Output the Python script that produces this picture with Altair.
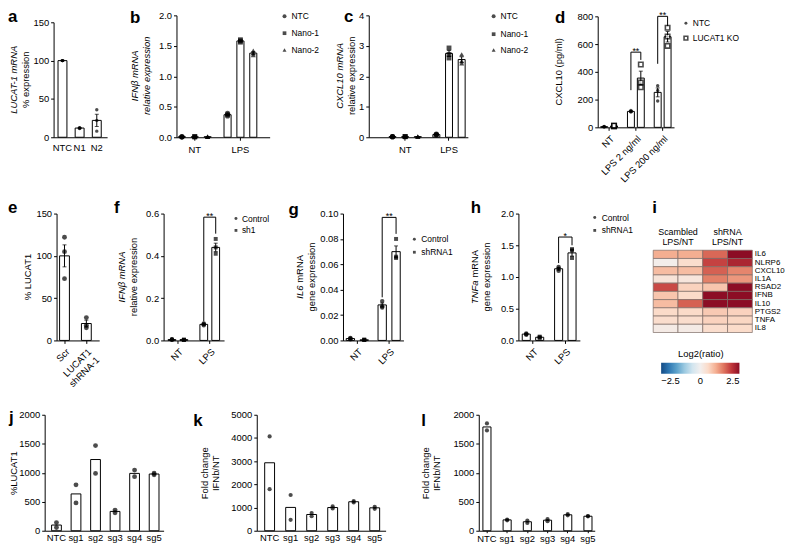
import altair as alt
import pandas as pd

FONT = "Liberation Sans"
W, H = 787, 539

# ---------------- data ----------------
a_cats = ["NTC", "N1", "N2"]
a_mean = [100, 12, 22]
a_sem = [0.6, 0.8, 8]
a_pts = [[100, 100, 100], [11.5, 12, 12.5], [36, 22, 8]]

b_conds = ["NT", "LPS"]
b_groups = ["NTC", "Nano-1", "Nano-2"]
b_mean = [[0.008, 0.008, 0.008], [0.37, 1.58, 1.38]]
b_sem = [[0.001, 0.001, 0.001], [0.015, 0.012, 0.025]]
b_pts = [[[0.008, 0.008, 0.008], [0.008, 0.008, 0.008], [0.008, 0.008, 0.008]],
         [[0.35, 0.37, 0.39], [1.56, 1.58, 1.60], [1.35, 1.38, 1.42]]]

c_conds = ["NT", "LPS"]
c_groups = ["NTC", "Nano-1", "Nano-2"]
c_mean = [[0.02, 0.02, 0.02], [0.09, 2.75, 2.55]]
c_sem = [[0.003, 0.003, 0.003], [0.01, 0.1, 0.09]]
c_pts = [[[0.02, 0.02, 0.02], [0.02, 0.02, 0.02], [0.02, 0.02, 0.02]],
         [[0.08, 0.1, 0.09], [2.93, 2.72, 2.6], [2.72, 2.5, 2.43]]]

d_conds = ["NT", "LPS 2 ng/ml", "LPS 200 ng/ml"]
d_groups = ["NTC", "LUCAT1 KO"]
d_mean = [[5, 10], [115, 355], [252, 653]]
d_sem = [[2, 3], [6, 50], [32, 38]]
d_pts = [[[3, 5, 7], [7, 10, 13]], [[110, 115, 121], [453, 324, 289]],
         [[300, 265, 190], [718, 655, 587]]]
d_brackets = [("LPS 2 ng/ml", 268, 542, 486), ("LPS 200 ng/ml", 458, 800, 730)]

e_cats = ["Scr", "LUCAT1 shRNA-1"]
e_mean = [100, 20]
e_sem = [13, 4]
e_pts = [[122, 105, 73], [27, 18, 15]]

f_conds = ["NT", "LPS"]
f_groups = ["Control", "sh1"]
f_mean = [[0.004, 0.004], [0.076, 0.44]]
f_sem = [[0.001, 0.001], [0.002, 0.02]]
f_pts = [[[0.004, 0.004, 0.004], [0.003, 0.003, 0.003]],
         [[0.072, 0.077, 0.08], [0.48, 0.44, 0.41]]]
f_brackets = [("LPS", 0.09, 0.583, 0.505)]

g_conds = ["NT", "LPS"]
g_groups = ["Control", "shRNA1"]
g_mean = [[0.0015, 0.0005], [0.028, 0.070]]
g_sem = [[0.0004, 0.0002], [0.0015, 0.0045]]
g_pts = [[[0.002, 0.0015, 0.001], [0.0006, 0.0005, 0.0004]],
         [[0.031, 0.027, 0.026], [0.080, 0.066, 0.065]]]
g_brackets = [("LPS", 0.034, 0.097, 0.084)]

h_conds = ["NT", "LPS"]
h_groups = ["Control", "shRNA1"]
h_mean = [[0.1, 0.05], [1.13, 1.38]]
h_sem = [[0.01, 0.005], [0.02, 0.05]]
h_pts = [[[0.11, 0.1, 0.09], [0.05, 0.04, 0.06]],
         [[1.16, 1.13, 1.1], [1.44, 1.42, 1.3]]]
h_brackets = [("LPS", 1.22, 1.63, 1.50)]

i_genes = ["IL6", "NLRP6", "CXCL10", "IL1A", "RSAD2", "IFNB", "IL10", "PTGS2", "TNFA", "IL8"]
i_cols = ["Scrambled 1", "Scrambled 2", "shRNA 1", "shRNA 2"]
i_vals = [[1.0, 1.0, 1.6, 2.6],
          [0.05, 0.45, 1.9, 2.2],
          [0.85, 0.85, 1.65, 1.35],
          [0.3, 0.25, 1.4, 1.2],
          [1.85, 0.6, 0.75, 2.6],
          [0.75, 0.5, 2.8, 2.8],
          [0.85, 1.65, 2.8, 2.8],
          [0.5, 0.5, 0.7, 0.6],
          [0.45, 0.45, 0.6, 0.55],
          [0.12, 0.12, 0.45, 0.48]]

j_cats = ["NTC", "sg1", "sg2", "sg3", "sg4", "sg5"]
j_mean = [98, 635, 1228, 333, 989, 978]
j_pts = [[56, 141], [791, 480], [1469, 988], [310, 356], [1046, 932], [965, 992]]

k_cats = ["NTC", "sg1", "sg2", "sg3", "sg4", "sg5"]
k_mean = [2930, 1005, 700, 1000, 1250, 988]
k_pts = [[4068, 1793], [1540, 470], [625, 765], [960, 1050], [1220, 1280], [946, 1030]]

l_cats = ["NTC", "sg1", "sg2", "sg3", "sg4", "sg5"]
l_mean = [1790, 187, 155, 182, 275, 250]
l_pts = [[1850, 1730], [180, 194], [135, 175], [165, 200], [265, 285], [248, 252]]


# ---------------- helpers ----------------
def X(v):
    return v - 8


def Y(v):
    return v - 8


ONE = pd.DataFrame({"k": [0]})


def yaxis(xa, ticks, fmt):
    return alt.Axis(orient="left", offset=-X(xa), values=ticks, format=fmt, title=None,
                    grid=False, domainColor="black", domainWidth=1, tickColor="black",
                    tickSize=3, tickWidth=1, labelPadding=2, labelFont=FONT, labelFontSize=9.5,
                    labelColor="black", labelFlush=False, labelOverlap=False)


def xaxis(y0, angle=0, ticks=True, expr=None, pad=3, tsize=3):
    kw = dict(orient="bottom", offset=Y(y0) - H, title=None, grid=False, domainColor="black",
              domainWidth=1, tickColor="black", tickSize=tsize, ticks=ticks, labelPadding=pad,
              labelFont=FONT, labelFontSize=9.5, labelColor="black", labelAngle=angle,
              labelOverlap=False)
    if angle:
        kw.update(labelAlign="right", labelBaseline="top")
    if expr:
        kw["labelExpr"] = expr
    return alt.Axis(**kw)


def circ(s):
    return dict(shape="circle", filled=True, color="black", strokeWidth=0, size=s)


def sq(s):
    return dict(shape="square", filled=True, color="black", strokeWidth=0, size=s)


def tri(s):
    return dict(shape="triangle-up", filled=True, color="black", strokeWidth=0, size=s)


def hsq(s):
    return dict(shape="square", filled=True, fill="white", stroke="black", strokeWidth=1.6, size=s)


def panel(conds, means, sems, pts, groups=None, *, xr, pi, po, align=0.5, spi=0.4, spo=0.1,
          ya, y0, yt, ydom, yticks, yfmt, angle=0, ticks=True, expr=None, pad=3, tsize=3,
          styles=None, cap=4, brackets=None, star=None):
    xs = alt.Scale(domain=conds, range=[X(xr[0]), X(xr[1])], paddingInner=pi,
                   paddingOuter=po, align=align)
    ys = alt.Scale(domain=ydom, range=[Y(y0), Y(yt)], nice=False, zero=True)
    xa = xaxis(y0, angle, ticks, expr, pad, tsize)
    yax = yaxis(ya, yticks, yfmt)
    glist = groups if groups else ["all"]
    rows, prow = [], []
    for i, c in enumerate(conds):
        for j, g in enumerate(glist):
            m = means[i][j] if groups else means[i]
            s = (sems[i][j] if groups else sems[i]) if sems else 0
            p = pts[i][j] if groups else pts[i]
            rows.append({"cond": c, "grp": g, "mean": m, "lo": m - s, "hi": m + s})
            for v in p:
                prow.append({"cond": c, "grp": g, "val": v})
    bdf = pd.DataFrame(rows)
    pdf = pd.DataFrame(prow)

    def enc(yfield, **extra):
        e = {"x": alt.X("cond:N", scale=xs, axis=xa),
             "y": alt.Y(yfield, scale=ys, axis=yax)}
        if groups:
            e["xOffset"] = alt.XOffset("grp:N", scale=alt.Scale(domain=groups, paddingInner=spi,
                                                                 paddingOuter=spo))
        e.update(extra)
        return e

    layers = [alt.Chart(bdf).mark_bar(fill="white", stroke="black", strokeWidth=1)
              .encode(**enc("mean:Q"))]
    if sems:
        layers.append(alt.Chart(bdf).mark_rule(color="black", strokeWidth=1)
                      .encode(**enc("lo:Q", y2=alt.Y2("hi:Q"))))
        for fld in ("lo:Q", "hi:Q"):
            layers.append(alt.Chart(bdf).mark_tick(color="black", thickness=1, size=cap,
                                                   orient="horizontal").encode(**enc(fld)))
    for j, g in enumerate(glist):
        sub = pdf[pdf.grp == g]
        layers.append(alt.Chart(sub).mark_point(**styles[j]).encode(**enc("val:Q")))
    if brackets:
        br, st = [], []
        for (c, lowl, top, lowr) in brackets:
            br += [{"cond": c, "grp": groups[0], "val": lowl, "seq": 0, "bid": c},
                   {"cond": c, "grp": groups[0], "val": top, "seq": 1, "bid": c},
                   {"cond": c, "grp": groups[1], "val": top, "seq": 2, "bid": c},
                   {"cond": c, "grp": groups[1], "val": lowr, "seq": 3, "bid": c}]
            st.append({"cond": c, "val": top, "txt": star})
        layers.append(alt.Chart(pd.DataFrame(br)).mark_line(color="black", strokeWidth=1)
                      .encode(**enc("val:Q", detail="bid:N", order="seq:Q")))
        layers.append(alt.Chart(pd.DataFrame(st)).mark_text(font=FONT, fontSize=9,
                                                            baseline="alphabetic",
                                                            dy=2, color="black")
                      .encode(x=alt.X("cond:N", scale=xs, axis=xa),
                              y=alt.Y("val:Q", scale=ys, axis=yax), text="txt:N"))
    return alt.layer(*layers)


def text(s, x, y, size=9.5, weight="normal", style="normal", align="left",
         baseline="alphabetic", angle=0):
    return alt.Chart(ONE).mark_text(font=FONT, fontSize=size, fontWeight=weight, fontStyle=style,
                                    align=align, baseline=baseline, angle=angle,
                                    color="black").encode(
        x=alt.value(X(x)), y=alt.value(Y(y)), text=alt.value(s))


def ytitle(s, x, yc, style="normal", align="center"):
    return text(s, x, yc, size=9.5, style=style, align=align, baseline="middle", angle=270)


def glyph(x, y, st):
    return alt.Chart(ONE).mark_point(**st).encode(x=alt.value(X(x)), y=alt.value(Y(y)))


# ---------------- panels ----------------
pa = panel(a_cats, a_mean, a_sem, a_pts, xr=(54, 108), pi=0.48, po=0.3, align=0.43,
           ya=54, y0=136, yt=20, ydom=[0, 150], yticks=[0, 50, 100, 150], yfmt="d",
           ticks=False, pad=5, styles=[circ(12)])
pb = panel(b_conds, b_mean, b_sem, b_pts, b_groups, xr=(178, 272), pi=0.2, po=0.12, align=0,
           spi=0.45, spo=0.145, ya=178, y0=136, yt=13, ydom=[0, 2],
           yticks=[0, 0.5, 1, 1.5, 2], yfmt=".1f", pad=4,
           styles=[circ(28), sq(24), tri(26)])
pc = panel(c_conds, c_mean, c_sem, c_pts, c_groups, xr=(372, 472), pi=0.14, po=0.2, align=1,
           spi=0.45, spo=0.215, ya=372, y0=136, yt=13, ydom=[0, 4],
           yticks=[0, 1, 2, 3, 4], yfmt="d", pad=4,
           styles=[circ(28), sq(24), tri(26)])
pdd = panel(d_conds, d_mean, d_sem, d_pts, d_groups, xr=(603, 680), pi=0.15, po=0, align=0.5,
            spi=0.3, spo=0.3, ya=603, y0=126, yt=14, ydom=[0, 800],
            yticks=[0, 200, 400, 600, 800], yfmt="d", angle=-45, pad=3,
            styles=[circ(12), hsq(20)], brackets=d_brackets, star="**")
pe = panel(e_cats, e_mean, e_sem, e_pts, xr=(57, 100), pi=0.55, po=0.25, align=0.276,
           ya=57, y0=341, yt=213, ydom=[0, 150], yticks=[0, 50, 100, 150], yfmt="d",
           angle=-45, pad=3,
           expr="datum.value == 'LUCAT1 shRNA-1' ? ['LUCAT1', 'shRNA-1'] : datum.label",
           styles=[circ(24)])
pf = panel(f_conds, f_mean, f_sem, f_pts, f_groups, xr=(165, 226), pi=0.22, po=0.06,
           spi=0.35, spo=0.215, ya=165, y0=341, yt=213, ydom=[0, 0.6],
           yticks=[0, 0.2, 0.4, 0.6], yfmt=".1f", angle=-45,
           styles=[circ(20), sq(16)], brackets=f_brackets, star="**")
pg = panel(g_conds, g_mean, g_sem, g_pts, g_groups, xr=(346, 407), pi=0.22, po=0.06,
           spi=0.4, spo=0.095, ya=346, y0=341, yt=213, ydom=[0, 0.1],
           yticks=[0, 0.02, 0.04, 0.06, 0.08, 0.1], yfmt=".2f", angle=-45,
           styles=[circ(20), sq(16)], brackets=g_brackets, star="**")
ph = panel(h_conds, h_mean, h_sem, h_pts, h_groups, xr=(523, 585), pi=0.22, po=0.06,
           spi=0.4, spo=0.14, ya=523, y0=341, yt=213, ydom=[0, 2],
           yticks=[0, 0.5, 1, 1.5, 2], yfmt=".1f", angle=-45,
           styles=[circ(20), sq(16)], brackets=h_brackets, star="*")
pj = panel(j_cats, j_mean, None, j_pts, xr=(45, 165), pi=0.5, po=0.295, align=0.6,
           ya=45, y0=533, yt=416, ydom=[0, 2000], yticks=[0, 500, 1000, 1500, 2000],
           yfmt="d", ticks=False, pad=2, styles=[circ(24)])
pk = panel(k_cats, k_mean, None, k_pts, xr=(259, 389), pi=0.53, po=0.33, align=0.57,
           ya=259, y0=533, yt=416, ydom=[0, 5000],
           yticks=[0, 1000, 2000, 3000, 4000, 5000], yfmt="d", ticks=False, pad=2,
           styles=[circ(18)])
pl = panel(l_cats, l_mean, None, l_pts, xr=(483, 600), pi=0.6, po=0.17, align=0.6,
           ya=483, y0=533, yt=416, ydom=[0, 2000], yticks=[0, 500, 1000, 1500, 2000],
           yfmt="d", ticks=True, tsize=2, pad=1, styles=[circ(18)])

# heatmap
hrows = []
for gi, gname in enumerate(i_genes):
    for ci, cname in enumerate(i_cols):
        hrows.append({"gene": gname, "col": cname, "v": i_vals[gi][ci]})
heat = alt.Chart(pd.DataFrame(hrows)).mark_rect(stroke="#7d6b66", strokeWidth=0.7).encode(
    x=alt.X("col:N", scale=alt.Scale(domain=i_cols, range=[X(659), X(759)], paddingInner=0,
                                     paddingOuter=0), axis=None),
    y=alt.Y("gene:N", scale=alt.Scale(domain=i_genes, range=[Y(250), Y(333)], paddingInner=0,
                                      paddingOuter=0),
            axis=alt.Axis(orient="right", offset=X(759) - W, ticks=False, domain=False,
                          labelPadding=2, labelFont=FONT, labelFontSize=8, labelColor="black",
                          title=None, grid=False, labelOverlap=False)),
    color=alt.Color("v:Q", scale=alt.Scale(scheme="redblue", reverse=True, domain=[-2.5, 2.5],
                                           clamp=True),
                    legend=alt.Legend(orient="none", legendX=X(667), legendY=Y(350),
                                      direction="horizontal", gradientLength=79,
                                      gradientThickness=11, title="Log2(ratio)",
                                      titleFont=FONT, titleFontSize=9.5,
                                      titleFontWeight="normal", titleColor="black",
                                      titleAnchor="middle", titlePadding=4,
                                      labelFont=FONT, labelFontSize=9.5, labelColor="black",
                                      values=[-2.5, 0, 2.5],
                                      labelExpr="datum.value == 0 ? '0' : format(datum.value, '.1f')",
                                      padding=0, gradientStrokeWidth=0)))

# ---------------- annotations ----------------
ann = []
for (s, x, y) in [("a", 8, 20), ("b", 131, 21), ("c", 347, 20), ("d", 560, 21),
                  ("e", 8, 212), ("f", 115, 212), ("g", 291, 214), ("h", 475, 212),
                  ("i", 658, 212), ("j", 9, 424), ("k", 195, 427), ("l", 425, 427)]:
    ann.append(text(s, x, y, size=17, weight="bold"))

ann += [
    ytitle("LUCAT-1 mRNA", 14, 78, "italic"), ytitle("% expression", 26, 78),
    ytitle("IFNβ mRNA", 136, 74, "italic"), ytitle("relative expression", 148, 74, "italic"),
    ytitle("CXCL10 mRNA", 343, 74, "italic"), ytitle("relative expression", 355, 74),
    ytitle("CXCL10 (pg/ml)", 564, 70),
    ytitle("% LUCAT1", 28, 277),
    ytitle("IFNβ mRNA", 123, 277, "italic"), ytitle("relative expression", 135, 277),
    ytitle("IL6", 303, 277 + 8.7, "italic", "right"), ytitle("mRNA", 303, 277 + 5.8, "normal", "left"),
    ytitle("gene expression", 315, 277),
    ytitle("TNFa", 479, 277 + 3.5, "italic", "right"), ytitle("mRNA", 479, 277 + 0.6, "normal", "left"),
    ytitle("gene expression", 491, 277),
    ytitle("%LUCAT1", 14, 475),
    ytitle("Fold change", 207, 475), ytitle("IFNb/NT", 218, 475),
    ytitle("Fold change", 430, 475), ytitle("IFNb/NT", 441, 475),
]

# legends
for (gx, tx, entries) in [
    (287, 294, [(14, circ(16), "NTC"), (31, sq(14), "Nano-1"), (48, tri(16), "Nano-2")]),
    (498, 505, [(14, circ(16), "NTC"), (32, sq(14), "Nano-1"), (48, tri(16), "Nano-2")]),
    (692, 699, [(21, circ(9), "NTC"), (36, hsq(14), "LUCAT1 KO")]),
    (238, 244, [(218, circ(9), "Control"), (230, sq(8), "sh1")]),
    (418, 425, [(239, circ(9), "Control"), (252, sq(8), "shRNA1")]),
    (600, 607, [(217, circ(9), "Control"), (230, sq(8), "shRNA1")]),
]:
    for (gy, st, lab) in entries:
        ann.append(glyph(gx, gy, st))
        ann.append(text(lab, tx, gy, size=8.5, baseline="middle"))

# heatmap headers
ann += [text("Scambled", 684, 232, size=9, align="center", baseline="middle"),
        text("LPS/NT", 684, 241.5, size=9, align="center", baseline="middle"),
        text("shRNA", 734, 232, size=9, align="center", baseline="middle"),
        text("LPS/NT", 734, 241.5, size=9, align="center", baseline="middle")]

chart = alt.layer(pa, pb, pc, pdd, pe, pf, pg, ph, heat, pj, pk, pl, *ann).resolve_scale(
    x="independent", y="independent", xOffset="independent", color="independent"
).properties(width=W, height=H, autosize=alt.AutoSizeParams(type="none"), padding=0
).configure_view(stroke=None)

chart.save("out.html", embed_options={"renderer": "svg", "actions": False})
